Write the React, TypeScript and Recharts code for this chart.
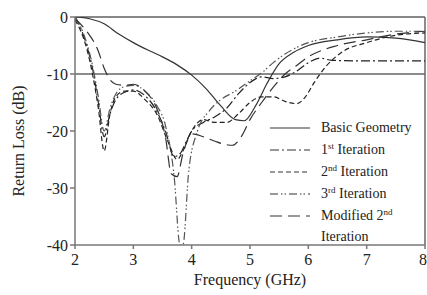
import React from 'react';
import { LineChart, Line, XAxis, YAxis, ReferenceLine } from 'recharts';

// frequency (GHz) / return loss (dB) per curve
const basicFreq = [2, 2.25, 2.5, 2.75, 3, 3.25, 3.5, 3.75, 4, 4.25, 4.5, 4.75, 4.9, 5.1, 5.3, 5.5, 5.75, 6, 6.5, 7, 7.5, 8];
const basicLoss = [0, -0.3, -1.2, -3, -4.5, -5.8, -7, -8.4, -10.2, -12.6, -15.6, -18, -18.2, -15.5, -11.5, -8.2, -6.2, -5, -4, -3.5, -3.7, -4.5];

const iter1Freq = [2, 2.1, 2.2, 2.3, 2.4, 2.5, 2.6, 2.7, 2.85, 3, 3.2, 3.4, 3.55, 3.7, 3.8, 3.9, 4, 4.2, 4.4, 4.6, 4.8, 5, 5.2, 5.4, 5.6, 5.8, 6, 6.2, 6.4, 7, 8];
const iter1Loss = [0, -2, -5, -9, -15, -21, -17, -14.5, -13.2, -12.8, -13.8, -16.5, -20, -24.5, -24, -22, -20, -18.5, -17.5, -16, -13.5, -11.5, -10.5, -10.8, -10.5, -9.5, -8, -7.2, -7.6, -7.7, -7.7];

const iter2Freq = [2, 2.1, 2.2, 2.3, 2.4, 2.5, 2.6, 2.7, 2.85, 3, 3.2, 3.4, 3.6, 3.75, 3.85, 4, 4.2, 4.4, 4.6, 4.8, 5, 5.2, 5.4, 5.6, 5.8, 5.95, 6.1, 6.3, 6.6, 7, 7.5, 8];
const iter2Loss = [-0.5, -2.5, -5.5, -10, -16, -23.5, -17, -14, -13, -13, -14.5, -17, -22, -25, -23.5, -20, -18, -18.5, -18.5, -17, -15, -14, -14, -14.8, -15.2, -14, -11.5, -8.7, -6, -4.5, -3.2, -2.8];

const iter3Freq = [2, 2.1, 2.2, 2.3, 2.4, 2.5, 2.6, 2.7, 2.85, 3, 3.2, 3.4, 3.55, 3.7, 3.8, 3.85, 3.95, 4.1, 4.3, 4.5, 4.75, 5, 5.2, 5.4, 5.6, 6, 6.5, 7, 7.5, 8];
const iter3Loss = [0, -1.8, -4.5, -8.5, -14, -20, -16, -13.5, -12.2, -12, -13, -15.5, -19, -28, -40, -40, -27, -20, -16.5, -14.5, -13, -11.2, -9.8, -8, -6.5, -4.5, -3.5, -2.8, -2.5, -2.5];

const modFreq = [2, 2.2, 2.4, 2.5, 2.6, 2.7, 2.85, 3, 3.2, 3.4, 3.55, 3.65, 3.75, 3.85, 4, 4.2, 4.4, 4.55, 4.7, 4.85, 5, 5.2, 5.4, 5.6, 5.8, 6, 6.5, 7, 7.5, 8];
const modLoss = [-0.3, -2.5, -6, -9, -11, -11.8, -12, -11.8, -13, -16, -21, -27.5, -28, -24, -20.5, -21, -21.8, -22.3, -22.5, -21, -18, -15, -12.3, -10, -8.5, -7, -5, -4, -3, -2.5];

const xTicks = [2, 3, 4, 5, 6, 7, 8];
const yTicks = [0, -10, -20, -30, -40];

const toRows = (fs: number[], vs: number[]) => fs.map((f, i) => ({ f, v: vs[i] }));

const series = [
  { key: 'basic', label: ['Basic Geometry'], rows: toRows(basicFreq, basicLoss), dash: undefined, color: '#333' },
  { key: 'i1', label: ['1', 'st', ' Iteration'], rows: toRows(iter1Freq, iter1Loss), dash: '9 3 2 3', color: '#222' },
  { key: 'i2', label: ['2', 'nd', ' Iteration'], rows: toRows(iter2Freq, iter2Loss), dash: '5 3', color: '#222' },
  { key: 'i3', label: ['3', 'rd', ' Iteration'], rows: toRows(iter3Freq, iter3Loss), dash: '8 3 1.5 2 1.5 3', color: '#555' },
  { key: 'mod', label: ['Modified 2', 'nd'], rows: toRows(modFreq, modLoss), dash: '12 6', color: '#333' },
];

const font = '"Liberation Serif", "DejaVu Serif", serif';

const LegendBox = () => (
  <div
    style={{
      position: 'absolute', left: 266, top: 117, width: 160,
      fontFamily: font, fontSize: 14, color: '#222', lineHeight: '22px',
    }}
  >
    {series.map((s) => (
      <div key={s.key} style={{ display: 'flex', alignItems: 'flex-start' }}>
        <svg width={55} height={22} style={{ flex: 'none' }}>
          <line x1={4} x2={44} y1={11} y2={11} stroke="#777" strokeWidth={1.5} strokeDasharray={s.dash} />
        </svg>
        <span>
          {s.label[0]}
          {s.label[1] && <sup style={{ fontSize: 9, verticalAlign: 'top', lineHeight: '14px' }}>{s.label[1]}</sup>}
          {s.label[2]}
          {s.key === 'mod' && (
            <span style={{ display: 'block', lineHeight: '19px' }}>Iteration</span>
          )}
        </span>
      </div>
    ))}
  </div>
);

const YLabel = () => (
  <text x={24} y={141} transform="rotate(-90 24 141)" textAnchor="middle" fontFamily={font} fontSize={16} fill="#222">
    Return Loss (dB)
  </text>
);

const XLabel = () => (
  <text x={250} y={285} textAnchor="middle" fontFamily={font} fontSize={16} fill="#222">
    Frequency (GHz)
  </text>
);

export default function App() {
  return (
    <div style={{ position: 'absolute', left: 0, top: 0, width: 427, height: 295, background: '#fff' }}>
      <LineChart width={427} height={295} margin={{ top: 17, right: 2, bottom: 0, left: 0 }}>
        <XAxis
          dataKey="f"
          type="number"
          domain={[2, 8]}
          ticks={xTicks}
          height={50}
          stroke="#777"
          strokeWidth={1.5}
          tickSize={4}
          tick={{ fill: '#222', fontFamily: font, fontSize: 16, dy: 3 }}
          label={{ content: XLabel }}
        />
        <YAxis
          type="number"
          domain={[-40, 0]}
          ticks={yTicks}
          allowDataOverflow
          width={75}
          stroke="#777"
          strokeWidth={1.5}
          tickSize={5}
          tick={{ fill: '#222', fontFamily: font, fontSize: 16 }}
          label={{ content: YLabel }}
        />
        <ReferenceLine y={0} stroke="#888" strokeWidth={2} />
        <ReferenceLine y={-10} stroke="#666" strokeWidth={1.5} />
        <ReferenceLine x={8} stroke="#666" strokeWidth={1.5} />
        {series.map((s) => (
          <Line
            key={s.key}
            data={s.rows}
            dataKey="v"
            type="monotone"
            stroke={s.color}
            strokeWidth={1.2}
            strokeDasharray={s.dash}
            dot={false}
            isAnimationActive={false}
          />
        ))}
      </LineChart>
      <LegendBox />
    </div>
  );
}
